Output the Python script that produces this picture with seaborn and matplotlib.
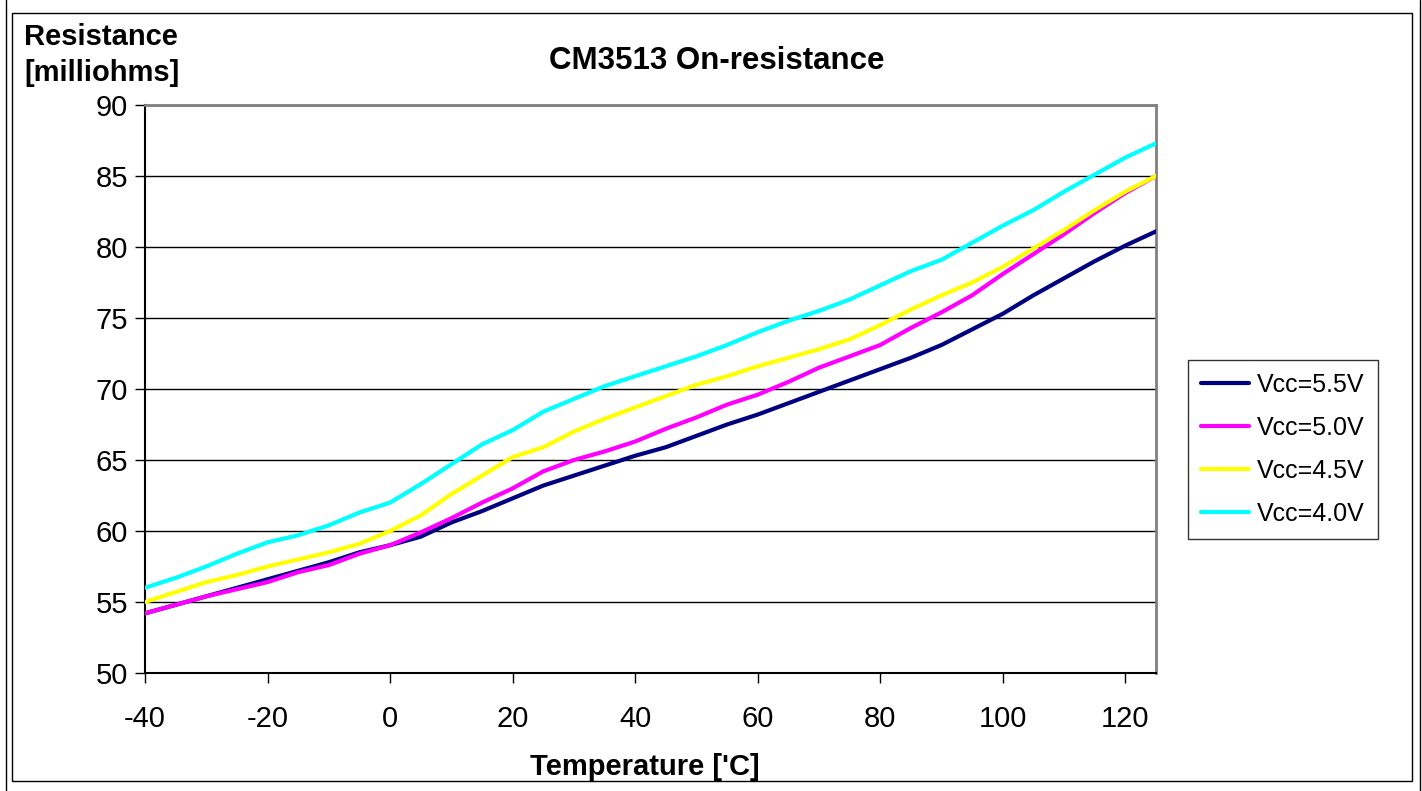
import numpy as np
import pandas as pd
import matplotlib
matplotlib.use("Agg")
import matplotlib.pyplot as plt
import seaborn as sns
from matplotlib.patches import Rectangle
from matplotlib.lines import Line2D

temps = [-40, -35, -30, -25, -20, -15, -10, -5, 0, 5, 10, 15, 20, 25, 30, 35, 40,
         45, 50, 55, 60, 65, 70, 75, 80, 85, 90, 95, 100, 105, 110, 115, 120, 125]

vcc_55 = [54.2, 54.8, 55.4, 56.0, 56.6, 57.2, 57.8, 58.5, 59.0, 59.6, 60.6, 61.4,
          62.3, 63.2, 63.9, 64.6, 65.3, 65.9, 66.7, 67.5, 68.2, 69.0, 69.8, 70.6,
          71.4, 72.2, 73.1, 74.2, 75.3, 76.6, 77.8, 79.0, 80.1, 81.1]
vcc_50 = [54.2, 54.8, 55.4, 55.9, 56.4, 57.1, 57.6, 58.4, 59.0, 59.9, 60.9, 62.0,
          63.0, 64.2, 65.0, 65.6, 66.3, 67.2, 68.0, 68.9, 69.6, 70.5, 71.5, 72.3,
          73.1, 74.3, 75.4, 76.6, 78.1, 79.5, 80.9, 82.4, 83.8, 85.0]
vcc_45 = [55.0, 55.7, 56.4, 56.9, 57.5, 58.0, 58.5, 59.1, 60.0, 61.1, 62.6, 63.9,
          65.2, 65.9, 67.0, 67.9, 68.7, 69.5, 70.3, 70.9, 71.6, 72.2, 72.8, 73.5,
          74.5, 75.6, 76.6, 77.5, 78.6, 79.9, 81.2, 82.6, 83.9, 85.0]
vcc_40 = [56.0, 56.7, 57.5, 58.4, 59.2, 59.7, 60.4, 61.3, 62.0, 63.3, 64.7, 66.1,
          67.1, 68.4, 69.3, 70.2, 70.9, 71.6, 72.3, 73.1, 74.0, 74.8, 75.5, 76.3,
          77.3, 78.3, 79.1, 80.3, 81.5, 82.6, 83.9, 85.1, 86.3, 87.3]

series_names = ["Vcc=5.5V", "Vcc=5.0V", "Vcc=4.5V", "Vcc=4.0V"]
series_vals = [vcc_55, vcc_50, vcc_45, vcc_40]
colors = ["#000080", "#FF00FF", "#FFFF00", "#00FFFF"]

x_ticks = [-40, -20, 0, 20, 40, 60, 80, 100, 120]
y_ticks = [50, 55, 60, 65, 70, 75, 80, 85, 90]

df = pd.DataFrame({
    "Temperature": np.tile(temps, len(series_names)),
    "Resistance": np.concatenate(series_vals),
    "Series": np.repeat(series_names, len(temps)),
})

sns.set_style("white")
plt.rcParams["font.family"] = ["Liberation Sans", "DejaVu Sans"]
plt.rcParams["axes.unicode_minus"] = False
plt.rcParams["text.color"] = "black"
plt.rcParams["xtick.color"] = "black"
plt.rcParams["ytick.color"] = "black"
plt.rcParams["axes.labelcolor"] = "black"

fig = plt.figure(figsize=(14.22, 7.91), dpi=100)
ax = fig.add_axes([145 / 1422, 1 - 673 / 791, (1156 - 145) / 1422, (673 - 105) / 791])

sns.lineplot(data=df, x="Temperature", y="Resistance", hue="Series",
             palette=dict(zip(series_names, colors)), hue_order=series_names,
             linewidth=3.0, ax=ax, legend=False, zorder=3)

ax.set_xlim(-40, 125)
ax.set_ylim(50, 90)
ax.set_xticks(x_ticks)
ax.set_yticks(y_ticks)
ax.tick_params(axis="both", labelsize=21, direction="out", length=7.2, width=1,
               color="black", labelcolor="black", bottom=True, left=True)
ax.tick_params(axis="y", pad=5)
ax.tick_params(axis="x", pad=16)
ax.yaxis.grid(True, color="black", linewidth=1)
ax.xaxis.grid(False)
ax.set_axisbelow(True)
for side in ["left", "bottom"]:
    ax.spines[side].set_color("black")
    ax.spines[side].set_linewidth(1.5)
for side in ["top", "right"]:
    ax.spines[side].set_color("#808080")
    ax.spines[side].set_linewidth(2)
ax.set_xlabel("")
ax.set_ylabel("")

fig.text(645 / 1422, 1 - 767 / 791, "Temperature ['C]", ha="center", va="center",
         fontsize=21, fontweight="bold", color="black")
fig.text(24 / 1422, 1 - 37 / 791, "Resistance", ha="left", va="center",
         fontsize=21, fontweight="bold", color="black")
fig.text(24 / 1422, 1 - 73 / 791, "[milliohms]", ha="left", va="center",
         fontsize=21, fontweight="bold", color="black")
fig.text(717 / 1422, 1 - 61 / 791, "CM3513 On-resistance", ha="center", va="center",
         fontsize=22.5, fontweight="bold", color="black")

handles = [Line2D([0], [0], color=c, linewidth=3.0) for c in colors]
leg = fig.legend(handles, series_names, loc="center left",
                 bbox_to_anchor=(1188 / 1422, 1 - 449.5 / 791), fontsize=18,
                 frameon=True, fancybox=False, edgecolor="black", handlelength=1.92,
                 labelspacing=0.76, borderpad=0.53, handletextpad=0.3,
                 borderaxespad=0)
leg.get_frame().set_linewidth(1)
for t in leg.get_texts():
    t.set_color("black")

fig.add_artist(Rectangle((12 / 1422, 1 - 781 / 791), (1412 - 12) / 1422, (781 - 13) / 791,
                         transform=fig.transFigure, fill=False, edgecolor="black",
                         linewidth=1))
fig.add_artist(Line2D([6 / 1422, 6 / 1422], [0, 1], transform=fig.transFigure,
                      color="black", linewidth=1))
fig.add_artist(Line2D([1420 / 1422, 1420 / 1422], [0, 1], transform=fig.transFigure,
                      color="black", linewidth=1))

fig.savefig("out.png", dpi=100)
